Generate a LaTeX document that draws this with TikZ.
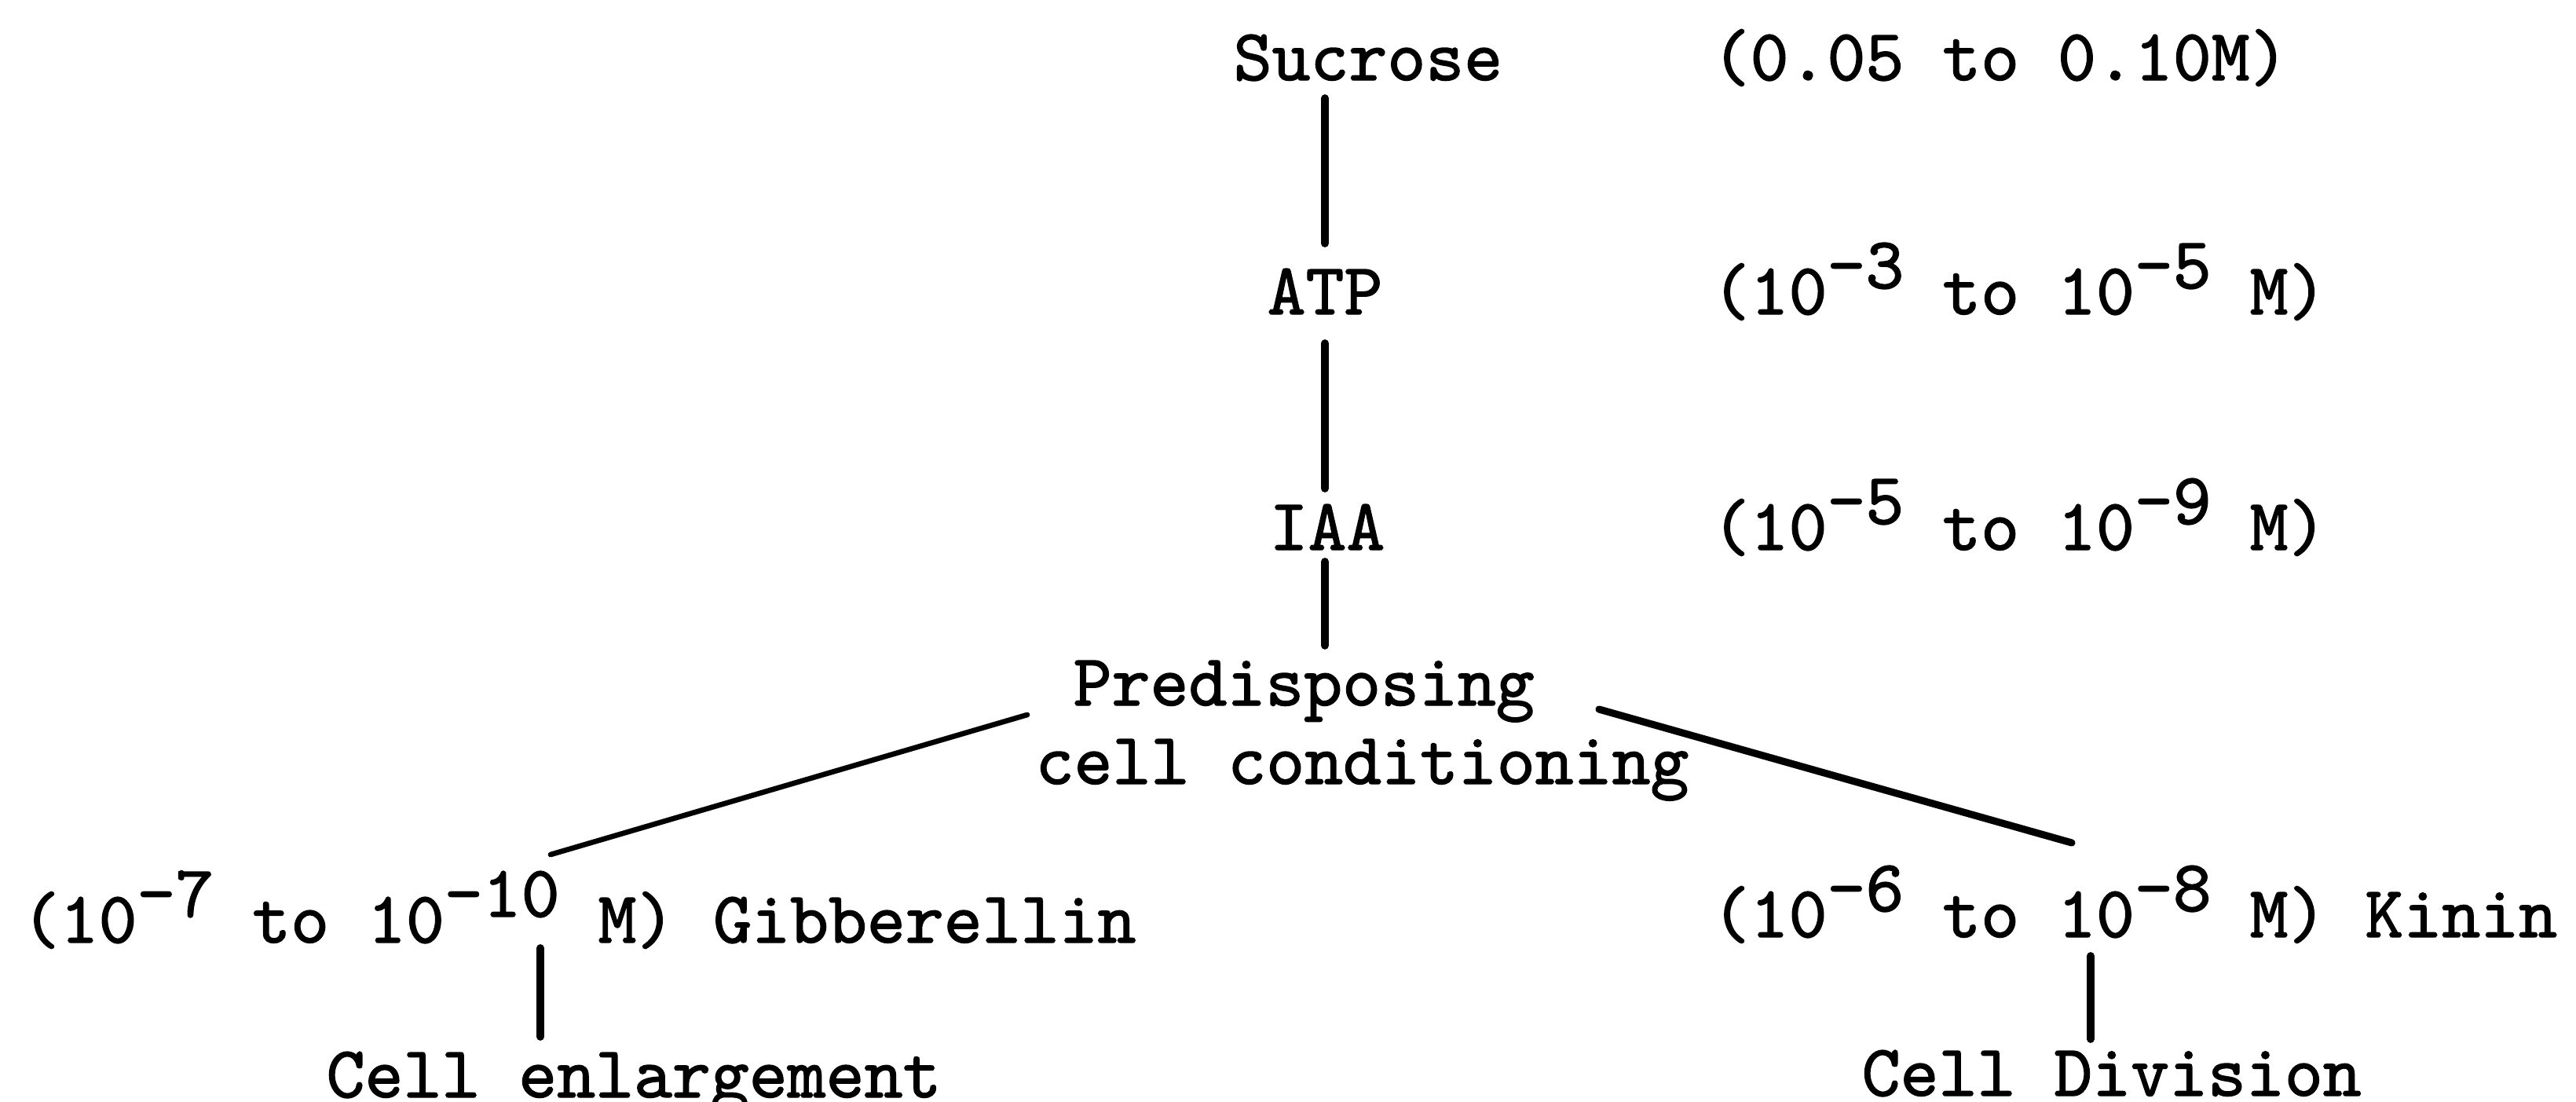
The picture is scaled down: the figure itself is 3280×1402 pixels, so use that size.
\documentclass[tikz,border=0pt]{standalone}
\usepackage{fontspec}
\newfontfamily\tw{lmmono10-regular.otf}[FakeBold=1.5]
\newcommand\up[1]{\raisebox{0.33cm}{#1}}
\begin{document}
\begin{tikzpicture}[x=0.01cm,y=-0.01cm,
  txt/.style={font={\tw\fontsize{26.5}{30}\selectfont}, inner sep=0pt, anchor=base west},
  ctxt/.style={txt, anchor=base},
  conn/.style={line width=2.8pt, line cap=round},
  lbranch/.style={line width=1.9pt, line cap=round},
  rbranch/.style={line width=2.6pt, line cap=round}]
\useasboundingbox (0,0) rectangle (3280,1402);
\fill[white] (0,0) rectangle (3280,1402);
% nodes
\node[txt]  (suc)  at (1570,102) {Sucrose};
\node[txt]  (succ) at (2179,102) {(0.05 to 0.10M)};
\node[ctxt] (atp)  at (1687,400) {ATP};
\node[txt]  (atpc) at (2179,400) {(10\up{-3} to 10\up{-5} M)};
\node[ctxt] (iaa)  at (1690,700) {IAA};
\node[txt]  (iaac) at (2179,700) {(10\up{-5} to 10\up{-9} M)};
\node[txt]  (pred) at (1366,898) {Predisposing};
\node[txt]  (cond) at (1318,998) {cell conditioning};
\node[txt]  (gib)  at (27,1200) {(10\up{-7} to 10\up{-10} M) Gibberellin};
\node[txt]  (kin)  at (2179,1193) {(10\up{-6} to 10\up{-8} M) Kinin};
\node[txt]  (enl)  at (415,1397) {Cell enlargement};
\node[txt]  (div)  at (2370,1395) {Cell Division};
% connector ends
\coordinate (lbA) at (1308,910);
\coordinate (lbB) at (701,1088);
\coordinate (rbA) at (2036,903);
\coordinate (rbB) at (2638,1073);
\coordinate (gv) at (688,1200);
\coordinate (kv) at (2662,1193);
% connectors
\draw[conn, shorten <=0.23cm, shorten >=0.9cm] (suc.base -| atp.base) -- (atp.base);
\draw[conn, shorten <=0.37cm, shorten >=0.78cm] (atp.base) -- (atp.base |- iaa.base);
\draw[conn, shorten <=0.15cm, shorten >=0.76cm] (atp.base |- iaa.base) -- (atp.base |- pred.base);
\draw[lbranch] (lbA) -- (lbB);
\draw[rbranch] (rbA) -- (rbB);
\draw[conn, shorten <=0.07cm, shorten >=0.77cm] (gv) -- (gv |- enl.base);
\draw[conn, shorten <=0.24cm, shorten >=0.72cm] (kv) -- (kv |- div.base);
\end{tikzpicture}
\end{document}
